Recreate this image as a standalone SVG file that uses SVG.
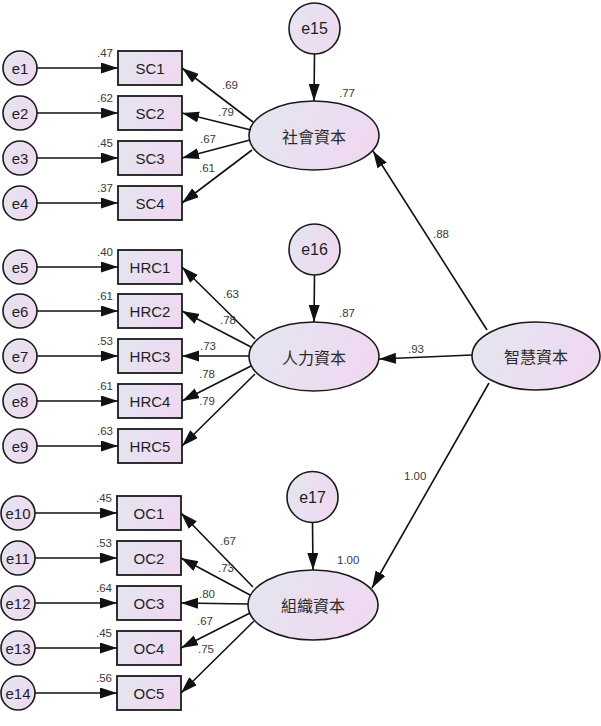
<svg xmlns="http://www.w3.org/2000/svg" width="601" height="726" viewBox="0 0 601 726">
  <defs>
    <linearGradient id="fillGrad" x1="0" y1="0" x2="1" y2="0.3">
      <stop offset="0" stop-color="#e3e6f0"/>
      <stop offset="1" stop-color="#efd9f1"/>
    </linearGradient>
    <marker id="arrow" markerUnits="userSpaceOnUse" markerWidth="18" markerHeight="12" refX="17" refY="5.5" orient="auto">
      <path d="M0,0 L17,5.5 L0,11 z" fill="#111"/>
    </marker>
    <style>
      .err { fill: url(#fillGrad); stroke: #1a1a1a; stroke-width: 1.6; }
      .obs { fill: url(#fillGrad); stroke: #1a1a1a; stroke-width: 1.8; }
      .lat { fill: url(#fillGrad); stroke: #1a1a1a; stroke-width: 1.6; }
      .lbl { font-family: "Liberation Sans", Arial, sans-serif; fill: #1e1e1e; text-anchor: middle; dominant-baseline: central; }
      .elbl { font-size: 15px; }
      .big { font-size: 16px; }
      .olbl { font-size: 15px; }
      .cjk { font-family: "Noto Sans CJK TC", "Noto Sans CJK SC", sans-serif; font-size: 16px; fill: #2a2a2a; text-anchor: middle; dominant-baseline: central; }
      .num { font-family: "Liberation Sans", Arial, sans-serif; font-size: 11.5px; fill: #3a3a3a; }
      .r2 { text-anchor: end; }
      .edge { stroke: #111; stroke-width: 1.6; fill: none; marker-end: url(#arrow); }
    </style>
  </defs>

  <!-- error terms -->
  <g id="e1"><circle class="err" cx="20" cy="68" r="17"/><text class="lbl elbl" x="20" y="68">e1</text></g>
  <g id="e2"><circle class="err" cx="20" cy="113" r="17"/><text class="lbl elbl" x="20" y="113">e2</text></g>
  <g id="e3"><circle class="err" cx="20" cy="158" r="17"/><text class="lbl elbl" x="20" y="158">e3</text></g>
  <g id="e4"><circle class="err" cx="20" cy="203" r="17"/><text class="lbl elbl" x="20" y="203">e4</text></g>
  <g id="e5"><circle class="err" cx="20" cy="267" r="17"/><text class="lbl elbl" x="20" y="267">e5</text></g>
  <g id="e6"><circle class="err" cx="20" cy="311" r="17"/><text class="lbl elbl" x="20" y="311">e6</text></g>
  <g id="e7"><circle class="err" cx="20" cy="356" r="17"/><text class="lbl elbl" x="20" y="356">e7</text></g>
  <g id="e8"><circle class="err" cx="20" cy="401" r="17"/><text class="lbl elbl" x="20" y="401">e8</text></g>
  <g id="e9"><circle class="err" cx="20" cy="446" r="17"/><text class="lbl elbl" x="20" y="446">e9</text></g>
  <g id="e10"><circle class="err" cx="18" cy="513" r="17"/><text class="lbl elbl" x="18" y="513">e10</text></g>
  <g id="e11"><circle class="err" cx="18" cy="558" r="17"/><text class="lbl elbl" x="18" y="558">e11</text></g>
  <g id="e12"><circle class="err" cx="18" cy="603" r="17"/><text class="lbl elbl" x="18" y="603">e12</text></g>
  <g id="e13"><circle class="err" cx="18" cy="648" r="17"/><text class="lbl elbl" x="18" y="648">e13</text></g>
  <g id="e14"><circle class="err" cx="18" cy="693" r="17"/><text class="lbl elbl" x="18" y="693">e14</text></g>
  <g id="e15"><circle class="err" cx="314.5" cy="28.5" r="25.5"/><text class="lbl big" x="314.5" y="28.5">e15</text></g>
  <g id="e16"><circle class="err" cx="314.5" cy="249.5" r="25.5"/><text class="lbl big" x="314.5" y="249.5">e16</text></g>
  <g id="e17"><circle class="err" cx="312.5" cy="497" r="25.5"/><text class="lbl big" x="312.5" y="497">e17</text></g>

  <!-- observed indicators -->
  <g id="SC1"><rect class="obs" x="118" y="51" width="64" height="34"/><text class="lbl olbl" x="150" y="68">SC1</text></g>
  <g id="SC2"><rect class="obs" x="118" y="96" width="64" height="34"/><text class="lbl olbl" x="150" y="113">SC2</text></g>
  <g id="SC3"><rect class="obs" x="118" y="141" width="64" height="34"/><text class="lbl olbl" x="150" y="158">SC3</text></g>
  <g id="SC4"><rect class="obs" x="118" y="186" width="64" height="34"/><text class="lbl olbl" x="150" y="203">SC4</text></g>
  <g id="HRC1"><rect class="obs" x="118" y="250" width="64" height="34"/><text class="lbl olbl" x="150" y="267">HRC1</text></g>
  <g id="HRC2"><rect class="obs" x="118" y="294" width="64" height="34"/><text class="lbl olbl" x="150" y="311">HRC2</text></g>
  <g id="HRC3"><rect class="obs" x="118" y="339" width="64" height="34"/><text class="lbl olbl" x="150" y="356">HRC3</text></g>
  <g id="HRC4"><rect class="obs" x="118" y="384" width="64" height="34"/><text class="lbl olbl" x="150" y="401">HRC4</text></g>
  <g id="HRC5"><rect class="obs" x="118" y="429" width="64" height="34"/><text class="lbl olbl" x="150" y="446">HRC5</text></g>
  <g id="OC1"><rect class="obs" x="117" y="496" width="64" height="34"/><text class="lbl olbl" x="149" y="513">OC1</text></g>
  <g id="OC2"><rect class="obs" x="117" y="541" width="64" height="34"/><text class="lbl olbl" x="149" y="558">OC2</text></g>
  <g id="OC3"><rect class="obs" x="117" y="586" width="64" height="34"/><text class="lbl olbl" x="149" y="603">OC3</text></g>
  <g id="OC4"><rect class="obs" x="117" y="631" width="64" height="34"/><text class="lbl olbl" x="149" y="648">OC4</text></g>
  <g id="OC5"><rect class="obs" x="117" y="676" width="64" height="34"/><text class="lbl olbl" x="149" y="693">OC5</text></g>

  <!-- latent factors -->
  <g id="social"><ellipse class="lat" cx="314" cy="135.5" rx="65" ry="34.5"/><text class="cjk" x="314" y="135.5">社會資本</text></g>
  <g id="human"><ellipse class="lat" cx="314" cy="356.5" rx="65" ry="34.5"/><text class="cjk" x="314" y="356.5">人力資本</text></g>
  <g id="organizational"><ellipse class="lat" cx="313" cy="605" rx="65" ry="35"/><text class="cjk" x="313" y="605">組織資本</text></g>
  <g id="intellectual"><ellipse class="lat" cx="536" cy="356" rx="64" ry="34"/><text class="cjk" x="536" y="356">智慧資本</text></g>

  <!-- paths -->
  <g id="connectors">
    <line class="edge" x1="37" y1="68" x2="118" y2="68"/>
    <line class="edge" x1="37" y1="113" x2="118" y2="113"/>
    <line class="edge" x1="37" y1="158" x2="118" y2="158"/>
    <line class="edge" x1="37" y1="203" x2="118" y2="203"/>
    <line class="edge" x1="37" y1="267" x2="118" y2="267"/>
    <line class="edge" x1="37" y1="311" x2="118" y2="311"/>
    <line class="edge" x1="37" y1="356" x2="118" y2="356"/>
    <line class="edge" x1="37" y1="401" x2="118" y2="401"/>
    <line class="edge" x1="37" y1="446" x2="118" y2="446"/>
    <line class="edge" x1="35" y1="513" x2="117" y2="513"/>
    <line class="edge" x1="35" y1="558" x2="117" y2="558"/>
    <line class="edge" x1="35" y1="603" x2="117" y2="603"/>
    <line class="edge" x1="35" y1="648" x2="117" y2="648"/>
    <line class="edge" x1="35" y1="693" x2="117" y2="693"/>

    <line class="edge" x1="253" y1="122" x2="182" y2="68"/>
    <line class="edge" x1="251" y1="130" x2="182" y2="113"/>
    <line class="edge" x1="250" y1="140" x2="182" y2="158"/>
    <line class="edge" x1="252" y1="150" x2="182" y2="203"/>

    <line class="edge" x1="255" y1="339" x2="182" y2="267"/>
    <line class="edge" x1="251" y1="347" x2="182" y2="311"/>
    <line class="edge" x1="249" y1="356" x2="182" y2="356"/>
    <line class="edge" x1="251" y1="366" x2="182" y2="401"/>
    <line class="edge" x1="255" y1="374" x2="182" y2="446"/>

    <line class="edge" x1="253" y1="587" x2="181" y2="513"/>
    <line class="edge" x1="250" y1="595" x2="181" y2="558"/>
    <line class="edge" x1="248" y1="604" x2="181" y2="603"/>
    <line class="edge" x1="250" y1="613" x2="181" y2="648"/>
    <line class="edge" x1="254" y1="621" x2="181" y2="693"/>

    <line class="edge" x1="314.5" y1="54" x2="314" y2="101"/>
    <line class="edge" x1="314.5" y1="275" x2="314" y2="322"/>
    <line class="edge" x1="312.5" y1="522.5" x2="313" y2="570"/>

    <line class="edge" x1="487" y1="330" x2="373" y2="151"/>
    <line class="edge" x1="472" y1="355" x2="379" y2="359"/>
    <line class="edge" x1="489" y1="383" x2="372" y2="588"/>
  </g>

  <!-- squared multiple correlations -->
  <g id="r2-labels">
    <text class="num r2" x="113" y="57">.47</text>
    <text class="num r2" x="113" y="102">.62</text>
    <text class="num r2" x="113" y="147">.45</text>
    <text class="num r2" x="113" y="192">.37</text>
    <text class="num r2" x="113" y="256">.40</text>
    <text class="num r2" x="113" y="300">.61</text>
    <text class="num r2" x="113" y="345">.53</text>
    <text class="num r2" x="113" y="390">.61</text>
    <text class="num r2" x="113" y="435">.63</text>
    <text class="num r2" x="112" y="502">.45</text>
    <text class="num r2" x="112" y="547">.53</text>
    <text class="num r2" x="112" y="592">.64</text>
    <text class="num r2" x="112" y="637">.45</text>
    <text class="num r2" x="112" y="682">.56</text>
    <text class="num" x="339" y="97">.77</text>
    <text class="num" x="339" y="317">.87</text>
    <text class="num" x="337" y="564">1.00</text>
  </g>

  <!-- standardized path weights -->
  <g id="weights">
    <text class="num" x="222" y="89">.69</text>
    <text class="num" x="218" y="116">.79</text>
    <text class="num" x="200" y="143">.67</text>
    <text class="num" x="199" y="172">.61</text>
    <text class="num" x="223" y="298">.63</text>
    <text class="num" x="220" y="324">.78</text>
    <text class="num" x="200" y="350">.73</text>
    <text class="num" x="199" y="378">.78</text>
    <text class="num" x="199" y="405">.79</text>
    <text class="num" x="220" y="545">.67</text>
    <text class="num" x="218" y="572">.73</text>
    <text class="num" x="199" y="598">.80</text>
    <text class="num" x="197" y="625">.67</text>
    <text class="num" x="198" y="653">.75</text>
    <text class="num" x="433" y="238">.88</text>
    <text class="num" x="408" y="353">.93</text>
    <text class="num" x="404" y="480">1.00</text>
  </g>
</svg>
